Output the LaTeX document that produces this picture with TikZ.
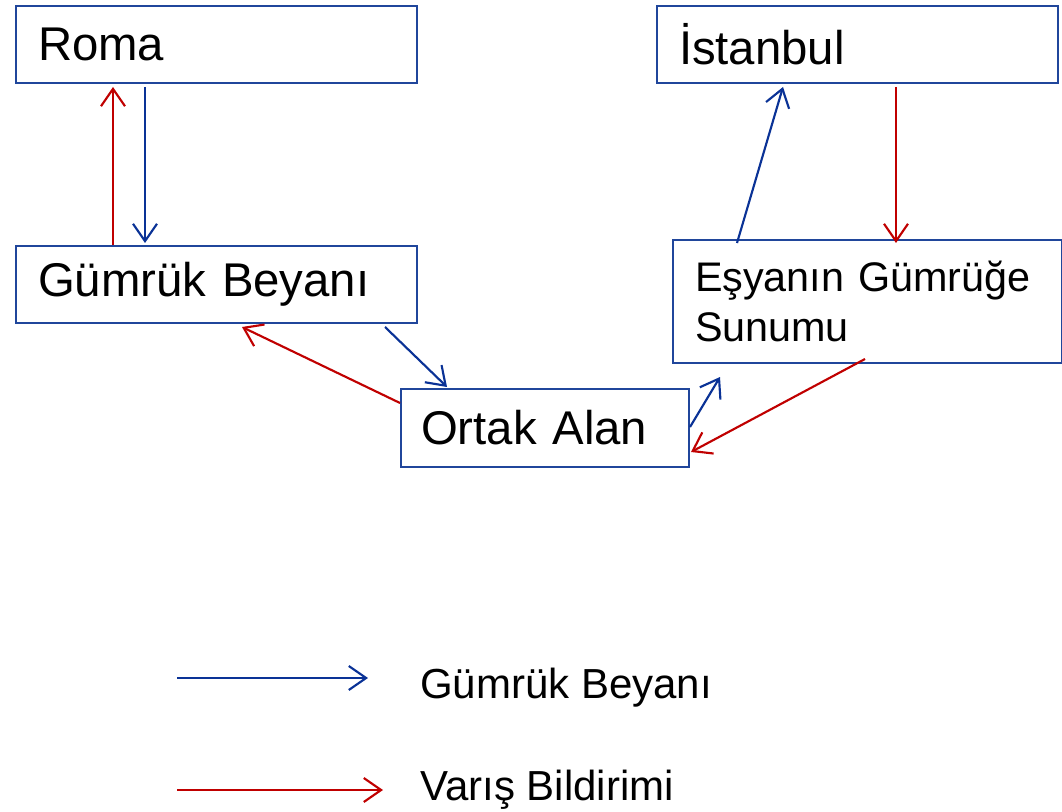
\documentclass[tikz,border=0pt]{standalone}
\usepackage{fontspec}
\setmainfont{Liberation Sans}
\usetikzlibrary{arrows.meta,calc}
\definecolor{bblue}{RGB}{32,70,155}
\definecolor{ablue}{RGB}{10,50,150}
\definecolor{ared}{RGB}{192,0,0}
\begin{document}
\begin{tikzpicture}[x=0.75pt,y=-0.75pt,
  box/.style={draw=bblue, line width=1.5pt, anchor=north west, inner xsep=16.5pt, inner ysep=0pt, align=left, font=\fontsize{35.5}{41}\selectfont},
  bigbox/.style={box, minimum width=300.75pt, text width=267.75pt, minimum height=57.75pt},
  barrow/.style={draw=ablue, line width=1.6pt, -{Straight Barb[length=13pt,width=18pt,line width=1.6pt]}},
  rarrow/.style={draw=ared, line width=1.6pt, -{Straight Barb[length=13pt,width=18pt,line width=1.6pt]}},
  legtext/.style={anchor=base west, inner sep=0pt, font=\fontsize{31.5}{36}\selectfont}
]
\useasboundingbox (0,0) rectangle (1062,812);

\node[bigbox] (roma) at (15,5) {Roma};
\node[bigbox] (ist) at (656,5) {İstanbul};
\node[bigbox] (gb) at (15,245) {Gümrük Beyanı};
\node[box, minimum width=291.75pt, text width=258.75pt, minimum height=92.25pt, font=\fontsize{31}{37.5}\selectfont] (esy) at (672,239) {Eşyanın Gümrüğe\\Sunumu};
\node[box, minimum width=216pt, text width=186pt, minimum height=58.5pt, inner xsep=14.5pt] (ortak) at (400,388) {Ortak Alan};

% Roma <-> Gumruk Beyani
\draw[rarrow] ($(gb.north west)+(98,0)$) -- ($(roma.south west)+(98,3)$);
\draw[barrow] ($(roma.south west)+(130,3)$) -- ($(gb.north west)+(130,-2)$);

% Gumruk Beyani <-> Ortak Alan
\draw[rarrow] ($(ortak.north west)+(0,15)$) -- ($(gb.south west)+(227,3)$);
\draw[barrow] ($(gb.south west)+(370,3)$) -- ($(ortak.north west)+(47,-1)$);

% Ortak Alan <-> Esyanin Gumruge Sunumu
\draw[barrow] ($(ortak.north east)+(0,39)$) -- ($(esy.south west)+(48,13)$);
\draw[rarrow] ($(esy.south west)+(193,-5)$) -- ($(ortak.north east)+(1,64)$);

% Esyanin <-> Istanbul
\draw[barrow] ($(esy.north west)+(65,4)$) -- ($(ist.south west)+(127,3)$);
\draw[rarrow] ($(ist.south west)+(240,3)$) -- ($(esy.north west)+(224,4)$);

% Legend
\coordinate (l1a) at (177,678);
\coordinate (l1b) at (368,678);
\coordinate (l2a) at (177,790);
\coordinate (l2b) at (383,790);
\node[legtext] (lg1) at (420,698) {Gümrük Beyanı};
\node[legtext] (lg2) at (420,800) {Varış Bildirimi};
\draw[barrow] (l1a) -- (l1b);
\draw[rarrow] (l2a) -- (l2b);
\end{tikzpicture}
\end{document}
